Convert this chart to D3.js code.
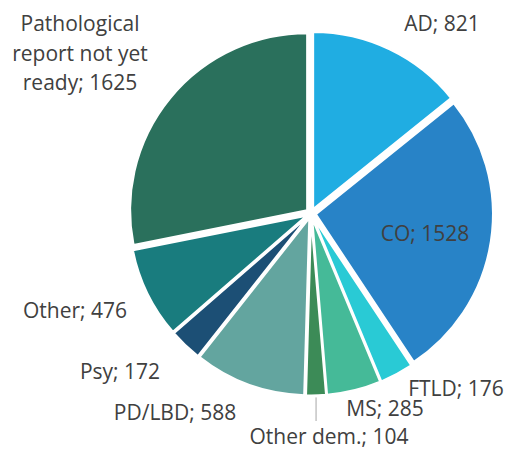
<!DOCTYPE html>
<html><head><meta charset="utf-8">
<script src="https://cdn.jsdelivr.net/npm/d3@7"></script>
<style>body{margin:0;background:#fff}text{font-family:"Open Sans",sans-serif;}</style>
</head><body><svg id="c" width="506" height="452"></svg>
<script>
const categories = ["AD","CO","FTLD","MS","Other dem.","PD/LBD","Psy","Other","Pathological report not yet ready"];
const values = [821,1528,176,285,104,588,172,476,1625];
const colors = ["#20ADE2","#2883C7","#29CAD5","#45BA98","#3C8B57","#63A59F","#1C4F75","#197C7E","#2A705C"];
// label layout (text anchor centre, lines)
const labelLines = [["AD; 821"],["CO; 1528"],["FTLD; 176"],["MS; 285"],["Other dem.; 104"],["PD/LBD; 588"],["Psy; 172"],["Other; 476"],["Pathological","report not yet","ready; 1625"]];
const labelPos = [[442,24],[425,234],[456,389],[385,409],[329,437],[175,413],[120,372],[75,311],[80,24]];

const svg = d3.select("#c");
const cx = 311, cy = 213.5, R = 177, explode = 5;
const pie = d3.pie().sort(null).value(d=>d)(values);
const arc = d3.arc().innerRadius(0).outerRadius(R);
const g = svg.append("g").attr("transform",`translate(${cx},${cy})`);
g.selectAll("path").data(pie).join("path")
  .attr("d",arc)
  .attr("fill",(d,i)=>colors[i])
  .attr("stroke","#fff").attr("stroke-width",2).attr("stroke-linejoin","round")
  .attr("transform",d=>{const a=(d.startAngle+d.endAngle)/2;return `translate(${explode*Math.sin(a)},${-explode*Math.cos(a)})`;});

// leader line for Other dem.
const od = pie[4], oa=(od.startAngle+od.endAngle)/2;
const lx = cx + (R+explode)*Math.sin(oa);
svg.append("line").attr("x1",lx).attr("x2",lx).attr("y1",cy-(R+explode+2)*Math.cos(oa)).attr("y2",421)
  .attr("stroke","#A6A6A6").attr("stroke-width",1);

const lh = 29.5;
labelLines.forEach((lines,i)=>{
  const t = svg.append("text").attr("text-anchor","middle").attr("fill","#404040").attr("font-size",21);
  lines.forEach((s,j)=>{
    t.append("tspan").attr("x",labelPos[i][0]).attr("y",labelPos[i][1]+j*lh).attr("dy","0.35em").text(s);
  });
});
</script></body></html>
